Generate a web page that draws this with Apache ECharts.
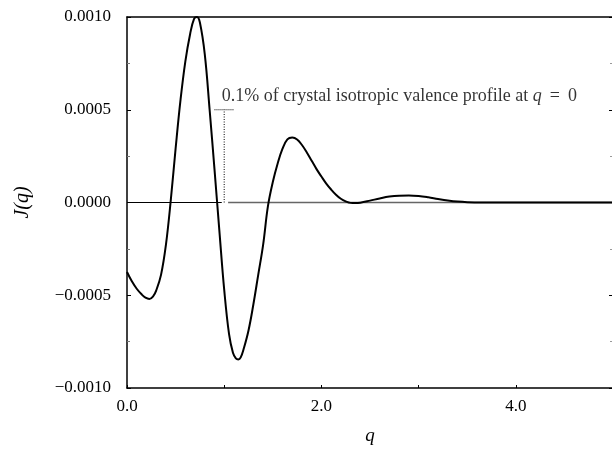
<!DOCTYPE html>
<html>
<head>
<meta charset="utf-8">
<script src="https://cdn.jsdelivr.net/npm/echarts@6/dist/echarts.min.js"></script>
<style>
  html, body { margin: 0; padding: 0; background: #fff; }
  #chart { width: 612px; height: 449px; }
</style>
</head>
<body>
<div id="chart"></div>
<script>
// Momentum transfer q and J(q) sampled along the curve
const qValues = [0.00, 0.05, 0.10, 0.15, 0.19, 0.23, 0.27, 0.30, 0.35, 0.40, 0.45, 0.50, 0.55, 0.60, 0.65, 0.69, 0.72, 0.75, 0.80, 0.85, 0.90, 0.95, 1.00, 1.05, 1.09, 1.12, 1.145, 1.17, 1.20, 1.25, 1.30, 1.35, 1.40, 1.45, 1.50, 1.55, 1.60, 1.65, 1.70, 1.75, 1.80, 1.85, 1.90, 1.95, 2.00, 2.05, 2.10, 2.15, 2.20, 2.25, 2.30, 2.35, 2.40, 2.50, 2.60, 2.70, 2.80, 2.90, 3.00, 3.10, 3.20, 3.30, 3.40, 3.50, 3.70, 4.00, 5.00];
const jValues = [-0.000375, -0.000425, -0.000465, -0.000495, -0.000513, -0.00052, -0.000505, -0.000475, -0.00039, -0.00023, 0.00001, 0.00029, 0.00055, 0.00076, 0.00091, 0.00099, 0.00100, 0.00097, 0.00080, 0.00050, 0.00018, -0.00015, -0.00047, -0.00071, -0.00081, -0.00084, -0.000846, -0.000835, -0.00079, -0.00069, -0.00055, -0.00039, -0.00023, -0.00002, 0.00011, 0.00021, 0.00029, 0.00034, 0.00035, 0.00034, 0.00031, 0.00027, 0.000225, 0.00018, 0.00014, 0.000102, 0.00007, 0.000042, 0.00002, 0.000006, -0.000002, -0.000003, -0.000001, 0.00001, 0.000022, 0.000032, 0.000037, 0.000038, 0.000035, 0.000028, 0.000019, 0.000011, 0.000005, 0.000002, 0.0000005, 0, 0];

// Axis tick values
const xTicks = [0, 1, 2, 3, 4, 5];
const yTicks = [-0.0010, -0.0005, 0.0000, 0.0005, 0.0010];

// Reference scale: 0.1% of the q = 0 valence profile
const refQ = 1.0;
const refLevel = 0.0005;
const refCap = [0.9, 1.1];
const refText = '0.1% of crystal isotropic valence profile at ';

const serif = '"Liberation Serif", "DejaVu Serif", serif';
const curve = qValues.map((q, i) => [q, jValues[i]]);

const fmtY = v => (v < 0 ? '\u2212' : '') + Math.abs(v).toFixed(4);

const chart = echarts.init(document.getElementById('chart'), null, { renderer: 'canvas' });
chart.setOption({
  animation: false,
  backgroundColor: '#fff',
  grid: { left: 127, top: 17, width: 486, height: 371, containLabel: false, outerBoundsMode: 'none' },
  xAxis: [{
    type: 'value', min: xTicks[0], max: xTicks[xTicks.length - 1], interval: 1,
    name: 'q', nameLocation: 'middle', nameGap: 38,
    nameTextStyle: { fontFamily: serif, fontStyle: 'italic', fontSize: 19, color: '#000' },
    axisLine: { show: true, onZero: false, lineStyle: { color: '#000', width: 1.5 } },
    axisTick: { show: true, inside: true, length: 3, lineStyle: { color: '#000' } },
    axisLabel: {
      fontFamily: serif, fontSize: 17, color: '#000', margin: 10,
      formatter: v => (Math.round(v) % 2 === 0 && v < 5 ? v.toFixed(1) : '')
    },
    splitLine: { show: false }
  }, {
    type: 'value', position: 'top', min: 0, max: 5, interval: 1,
    axisLine: { show: true, onZero: false, lineStyle: { color: '#000', width: 1.5 } },
    axisTick: { show: false }, axisLabel: { show: false }, splitLine: { show: false }
  }],
  yAxis: [{
    type: 'value', min: yTicks[0], max: yTicks[yTicks.length - 1], interval: 0.0005,
    name: 'J(q)', nameLocation: 'middle', nameGap: 94, nameRotate: 90,
    nameTextStyle: { fontFamily: serif, fontStyle: 'italic', fontSize: 20, color: '#000' },
    axisLine: { show: true, onZero: false, lineStyle: { color: '#000', width: 1.5 } },
    axisTick: { show: true, inside: true, length: 4, lineStyle: { color: '#000' } },
    minorTick: { show: true, splitNumber: 2, length: 3, lineStyle: { color: '#777' } },
    axisLabel: { fontFamily: serif, fontSize: 17, color: '#000', margin: 16, formatter: fmtY },
    splitLine: { show: false }
  }, {
    type: 'value', position: 'right', min: -0.001, max: 0.001, interval: 0.0005,
    axisLine: { show: true, onZero: false, lineStyle: { color: '#000', width: 1.5 } },
    axisTick: { show: true, inside: true, length: 4, lineStyle: { color: '#000' } },
    minorTick: { show: true, splitNumber: 2, length: 3, lineStyle: { color: '#999' } },
    axisLabel: { show: false }, splitLine: { show: false }
  }],
  series: [
    {
      // zero baseline, left part
      type: 'line', data: [[0, 0], [0.975, 0]], symbol: 'none', silent: true,
      lineStyle: { color: '#000', width: 1.2 }, z: 1
    },
    {
      // zero baseline, right part
      type: 'line', data: [[1.04, 0], [5, 0]], symbol: 'none', silent: true,
      lineStyle: { color: '#666', width: 1.4 }, z: 1
    },
    {
      type: 'line', data: curve, symbol: 'none', smooth: 0.4,
      lineStyle: { color: '#000', width: 2 }, z: 3
    },
    {
      // scale bar: dotted riser
      type: 'line', data: [[refQ, 0], [refQ, refLevel]], symbol: 'none', silent: true,
      lineStyle: { color: '#000', width: 1, type: [1, 1.5] }, z: 2
    },
    {
      // scale bar: cap
      type: 'line', data: [[refCap[0], refLevel], [refCap[1], refLevel]], symbol: 'none', silent: true,
      lineStyle: { color: '#000', width: 1, type: [1, 1] }, z: 2
    },
    {
      type: 'scatter', data: [[0.975, 0.00057]], symbolSize: 0, silent: true,
      label: {
        show: true, position: 'right', distance: 0,
        formatter: '{a|' + refText + '}{i|q}{a|\u2009 = \u20090}',
        rich: {
          a: { fontFamily: serif, fontSize: 18, color: '#000' },
          i: { fontFamily: serif, fontSize: 18, fontStyle: 'italic', color: '#000' }
        }
      }
    }
  ]
});
</script>
</body>
</html>
